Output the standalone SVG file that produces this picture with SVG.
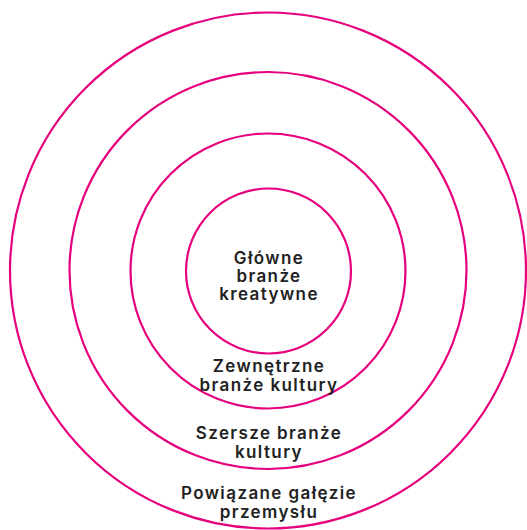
<svg xmlns="http://www.w3.org/2000/svg" width="527" height="530" viewBox="0 0 527 530">
<style>
.ring{fill:none;stroke:#e6007e;stroke-width:2.2}
.lbl{font-family:Inter,"Open Sans","Liberation Sans",sans-serif;font-weight:600;font-size:17px;letter-spacing:1.4px;fill:#222;text-anchor:middle}
</style>
<rect width="527" height="530" fill="#fff"/>
<g id="ring4"><circle class="ring" cx="268" cy="270.5" r="258"/></g>
<g id="ring3"><circle class="ring" cx="268" cy="270.5" r="198.5"/></g>
<g id="ring2"><circle class="ring" cx="268" cy="271" r="137.5"/></g>
<g id="ring1"><circle class="ring" cx="268.5" cy="271" r="82.5"/></g>
<g id="label1"><text class="lbl" x="269" y="264"><tspan x="269">Główne</tspan><tspan x="269" dy="18">branże</tspan><tspan x="269" dy="18">kreatywne</tspan></text></g>
<g id="label2"><text class="lbl" x="269" y="372"><tspan x="269">Zewnętrzne</tspan><tspan x="269" dy="19">branże kultury</tspan></text></g>
<g id="label3"><text class="lbl" x="269" y="438.5"><tspan x="269">Szersze branże</tspan><tspan x="269" dy="19">kultury</tspan></text></g>
<g id="label4"><text class="lbl" x="269" y="498.5"><tspan x="269">Powiązane gałęzie</tspan><tspan x="269" dy="19">przemysłu</tspan></text></g>
</svg>
